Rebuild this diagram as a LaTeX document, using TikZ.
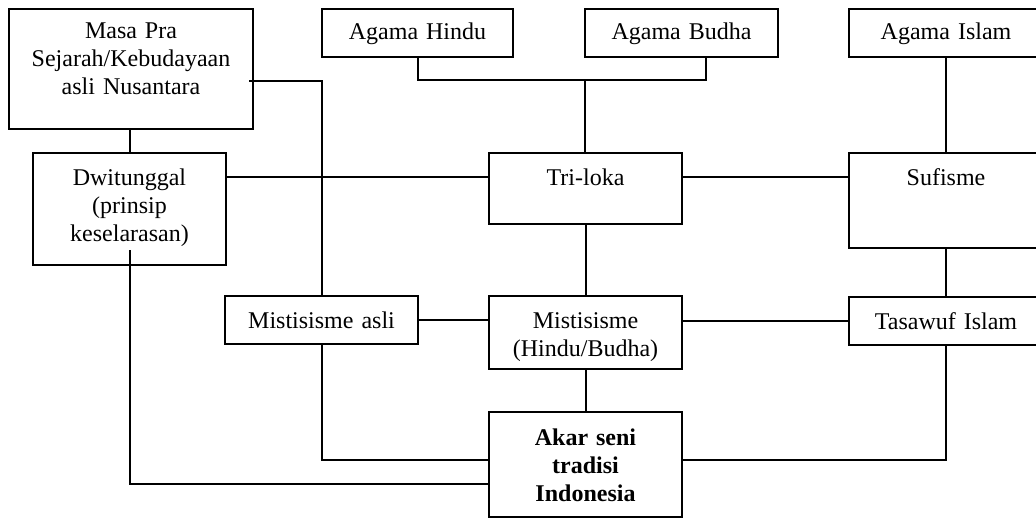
\documentclass[tikz,border=0pt]{standalone}
\usepackage{fontspec}
\setmainfont{Liberation Serif}
\begin{document}
\begin{tikzpicture}[x=0.5pt,y=-0.5pt,
  box/.style={draw,line width=1pt,rectangle,inner sep=0pt},
  txt/.style={anchor=base,inner sep=0pt,text width=100pt,align=center,
    font=\fontsize{12pt}{14pt}\selectfont},
  conn/.style={line width=1pt}]
\clip (0,0) rectangle (1036,518);
\fill[white] (0,0) rectangle (1036,518);
% boxes
\node[box,minimum width=122pt,minimum height=60pt] (masa) at (131,69) {};
\node[box,minimum width=95.5pt,minimum height=24pt] (hindu) at (417.5,33) {};
\node[box,minimum width=96.5pt,minimum height=24pt] (budha) at (681.5,33) {};
\node[box,minimum width=97pt,minimum height=24pt] (islam) at (946,33) {};
\node[box,minimum width=96.5pt,minimum height=56pt] (dwi) at (129.5,209) {};
\node[box,minimum width=96.5pt,minimum height=35.5pt] (tri) at (585.5,188.5) {};
\node[box,minimum width=97pt,minimum height=47.5pt] (sufi) at (946,200.5) {};
\node[box,minimum width=96.5pt,minimum height=24pt] (masli) at (321.5,320) {};
\node[box,minimum width=96.5pt,minimum height=36.5pt] (mhb) at (585.5,332.5) {};
\node[box,minimum width=97pt,minimum height=24pt] (tasa) at (946,321) {};
\node[box,minimum width=96.5pt,minimum height=52.5pt] (akar) at (585.5,464.5) {};
% texts
\node[txt,text width=120pt] (tmasa) at ([yshift=-15.5pt]masa.north) {Masa Pra\\Sejarah/Kebudayaan\\asli Nusantara};
\node[txt] (thindu) at ([yshift=-16pt]hindu.north) {Agama Hindu};
\node[txt] (tbudha) at ([yshift=-16pt]budha.north) {Agama Budha};
\node[txt] (tislam) at ([yshift=-16pt]islam.north) {Agama Islam};
\node[txt] (tdwi) at ([yshift=-16.5pt]dwi.north) {Dwitunggal\\(prinsip\\keselarasan)};
\node[txt] (ttri) at ([yshift=-16.5pt]tri.north) {Tri-loka};
\node[txt] (tsufi) at ([yshift=-16.5pt]sufi.north) {Sufisme};
\node[txt] (tmasli) at ([yshift=-16.5pt]masli.north) {Mistisisme asli};
\node[txt] (tmhb) at ([yshift=-16.5pt]mhb.north) {Mistisisme\\(Hindu/Budha)};
\node[txt] (ttasa) at ([yshift=-16.5pt]tasa.north) {Tasawuf Islam};
\node[txt,font=\fontsize{12pt}{14pt}\selectfont\bfseries] (takar) at ([yshift=-17pt]akar.north) {Akar seni\\tradisi\\Indonesia};
% helper coordinates
\coordinate (hb) at (585,80);
\coordinate (ymid) at (0,177);
\coordinate (ylo) at (0,460);
\coordinate (ybot) at (0,484);
% connectors
\draw[conn] (hindu.south) |- (hb) -| ([xshift=12.25pt]budha.south);
\draw[conn] (hb) -- (hb |- tri.north);
\draw[conn] (islam.south) -- (sufi.north);
\draw[conn] (masa.south -| dwi.north) -- (dwi.north);
\draw[conn] ([xshift=-2.5pt,yshift=-6pt]masa.east) -| (masli.north);
\draw[conn] (dwi.east |- ymid) -- (tri.west |- ymid);
\draw[conn] (tri.east |- ymid) -- (sufi.west |- ymid);
\draw[conn] (tri.south) -- (mhb.north);
\draw[conn] (sufi.south) -- (tasa.north);
\draw[conn] (masli.east) -- (masli.east -| mhb.west);
\draw[conn] (tasa.west -| mhb.east) -- (tasa.west);
\draw[conn] (mhb.south) -- (akar.north);
\draw[conn] (masli.south) |- (akar.west |- ylo);
\draw[conn] ([yshift=8pt]dwi.south) |- (akar.west |- ybot);
\draw[conn] (tasa.south) |- (akar.east |- ylo);
\end{tikzpicture}
\end{document}
